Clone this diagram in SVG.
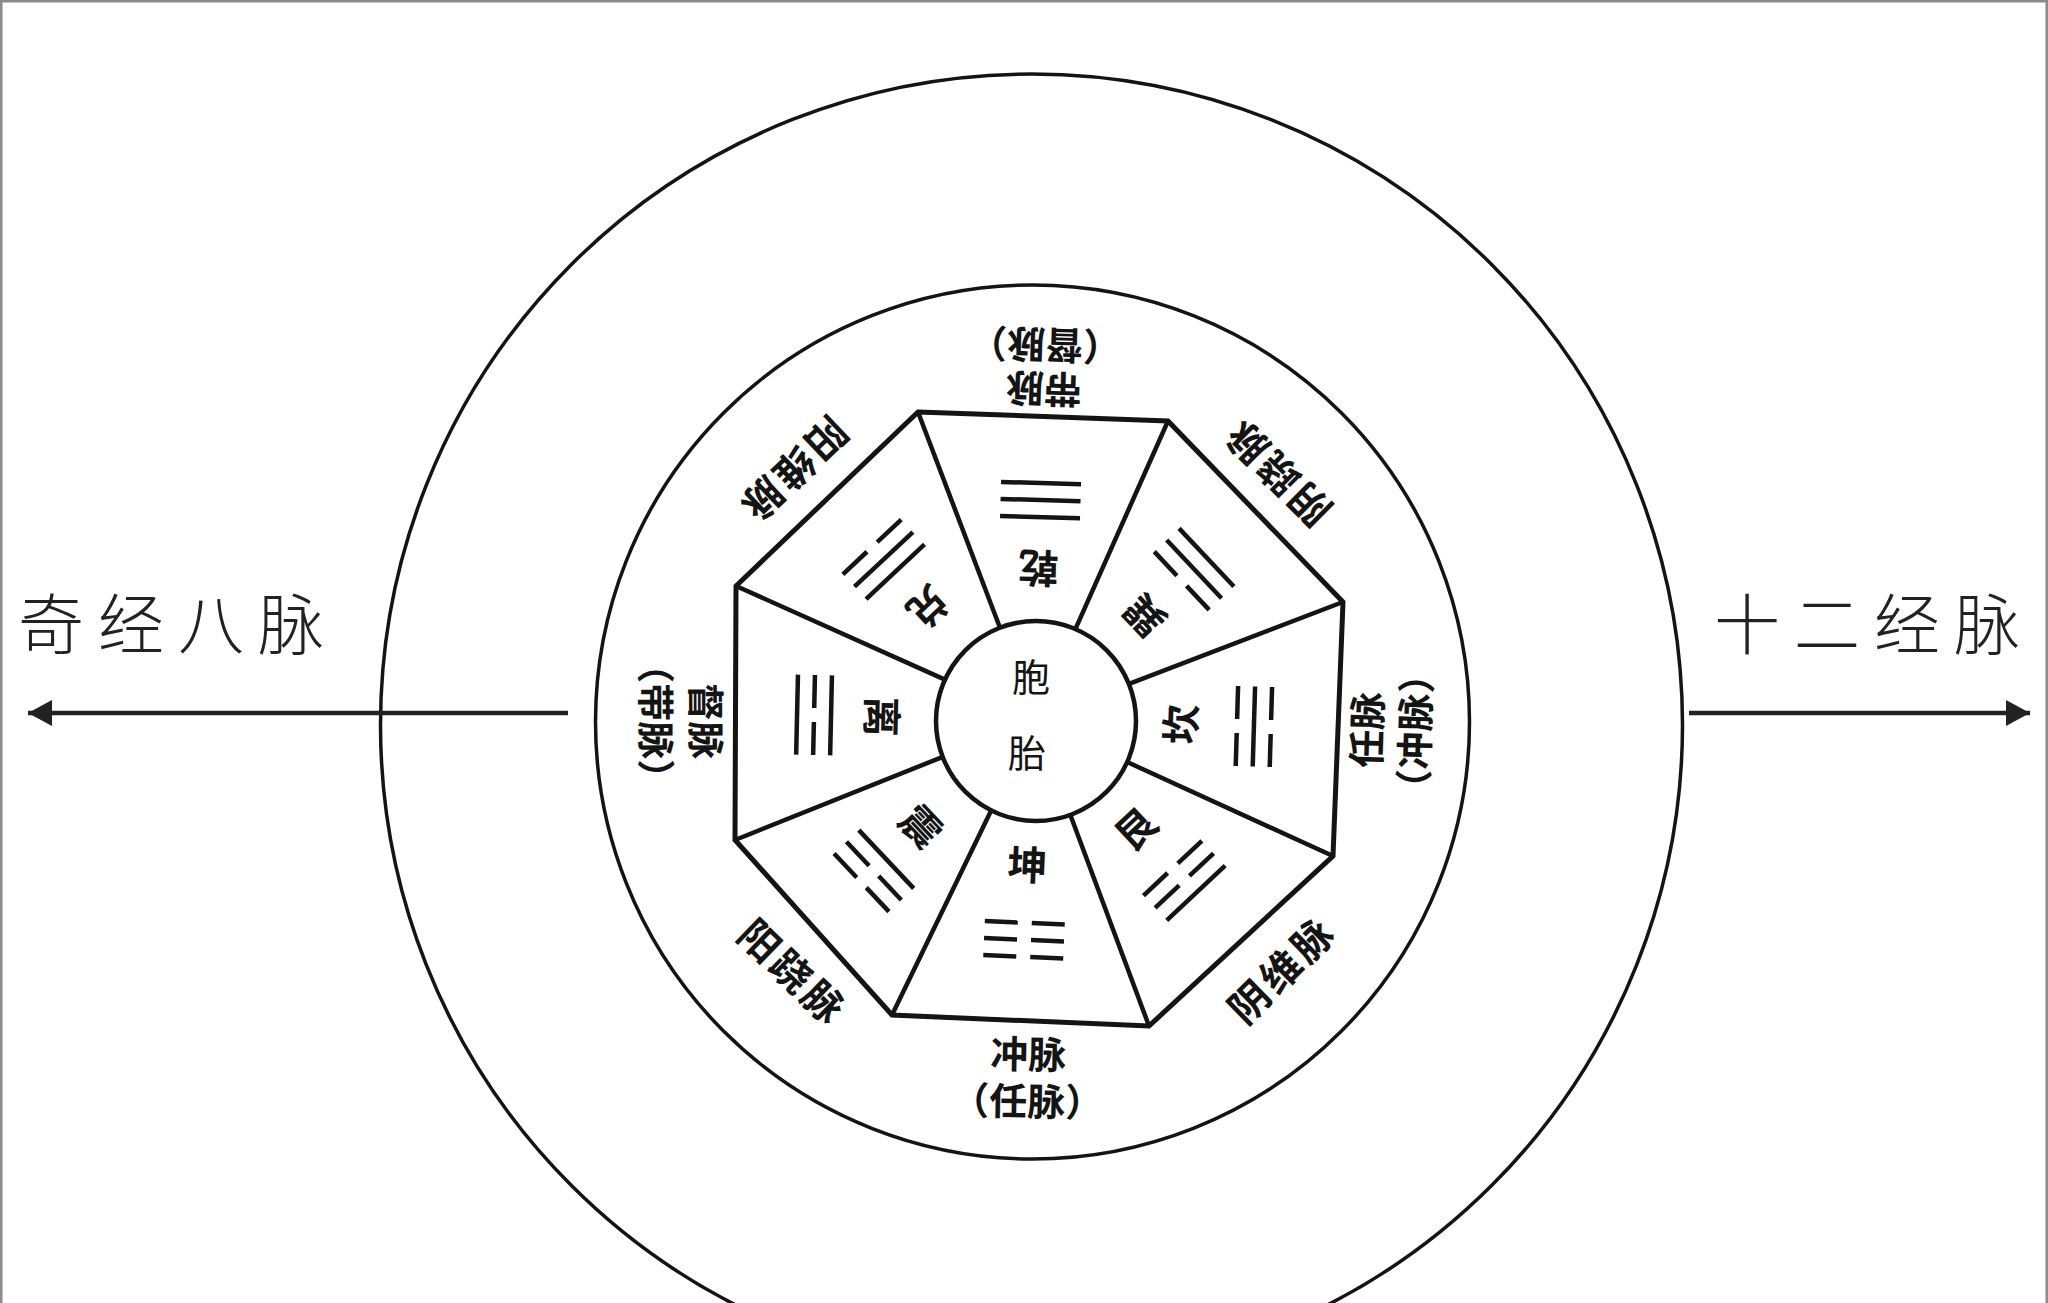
<svg xmlns="http://www.w3.org/2000/svg" width="2048" height="1303" viewBox="0 0 2048 1303">
<style>
.ring{fill:none;stroke:#141414;stroke-width:3.5}
.oct{fill:none;stroke:#141414;stroke-width:5;stroke-linejoin:miter}
.spoke{stroke:#141414;stroke-width:4.5}
.yao{stroke:#141414;stroke-width:4.5}
.tri{font-family:"Noto Sans CJK SC","Noto Sans CJK TC",sans-serif;font-size:40px;font-weight:700;fill:#141414;text-anchor:middle;dominant-baseline:central}
.mer{font-family:"Noto Sans CJK SC","Noto Sans CJK TC",sans-serif;font-size:38px;font-weight:700;fill:#141414;text-anchor:middle;dominant-baseline:central}
.merd{font-family:"Noto Sans CJK SC","Noto Sans CJK TC",sans-serif;font-size:40px;font-weight:700;letter-spacing:4px;fill:#141414;text-anchor:middle;dominant-baseline:central}
.core{font-family:"Noto Sans CJK SC","Noto Sans CJK TC",sans-serif;font-size:38px;font-weight:400;fill:#141414;text-anchor:middle;dominant-baseline:central}
.big{font-family:"Noto Sans CJK SC","Noto Sans CJK TC",sans-serif;font-size:66px;font-weight:300;letter-spacing:14px;fill:#222;dominant-baseline:central}
.arrow{stroke:#222;stroke-width:4.5;fill:none}
</style>
<defs>
<marker id="ah" markerUnits="userSpaceOnUse" markerWidth="26" markerHeight="28" refX="24" refY="14" orient="auto">
<path d="M0,1 L24,14 L0,27 Z" fill="#222"/>
</marker>
</defs>
<rect x="0" y="0" width="2048" height="1303" fill="#fff"/>
<path d="M1,1303 V1 H2047 V1303" fill="none" stroke="#8a8a8a" stroke-width="3"/>

<g id="outer-circle"><circle class="ring" cx="1031.5" cy="725" r="651"/></g>
<g id="inner-circle"><circle class="ring" cx="1032.5" cy="722" r="437"/></g>

<g id="octagon">
<polygon class="oct" points="918,412 1168,421 1343,602 1333,856 1149,1026 892,1015 735,840 736,586"/>
<line class="spoke" x1="918" y1="412" x2="999.5" y2="626.5"/>
<line class="spoke" x1="1168" y1="421" x2="1075.6" y2="628.6"/>
<line class="spoke" x1="1343" y1="602" x2="1128.4" y2="684.2"/>
<line class="spoke" x1="1333" y1="856" x2="1126" y2="761.5"/>
<line class="spoke" x1="1149" y1="1026" x2="1069.9" y2="813.7"/>
<line class="spoke" x1="892" y1="1015" x2="991.4" y2="810"/>
<line class="spoke" x1="735" y1="840" x2="942.2" y2="757.1"/>
<line class="spoke" x1="736" y1="586" x2="943.8" y2="679.1"/>
</g>

<g id="core">
<circle cx="1036" cy="721" r="100" fill="#fff" stroke="#141414" stroke-width="4.5"/>
<text class="core" x="1031" y="674">胞</text>
<text class="core" x="1027" y="750">胎</text>
</g>

<g id="seg-qian" transform="translate(1034,720) rotate(-178.3)">
<text class="tri" x="0" y="150">乾</text>
<line class="yao" x1="-40" y1="203" x2="40" y2="203"/>
<line class="yao" x1="-40" y1="220" x2="40" y2="220"/>
<line class="yao" x1="-40" y1="237" x2="40" y2="237"/>
</g>
<g id="seg-xun" transform="translate(1034,720) rotate(-133.3)">
<text class="tri" x="0" y="150">巽</text>
<line class="yao" x1="-40" y1="203" x2="-7" y2="203"/><line class="yao" x1="7" y1="203" x2="40" y2="203"/>
<line class="yao" x1="-40" y1="220" x2="40" y2="220"/>
<line class="yao" x1="-40" y1="237" x2="40" y2="237"/>
</g>
<g id="seg-kan" transform="translate(1034,720) rotate(-88.3)">
<text class="tri" x="0" y="145">坎</text>
<line class="yao" x1="-40" y1="203" x2="-7" y2="203"/><line class="yao" x1="7" y1="203" x2="40" y2="203"/>
<line class="yao" x1="-40" y1="220" x2="40" y2="220"/>
<line class="yao" x1="-40" y1="237" x2="-7" y2="237"/><line class="yao" x1="7" y1="237" x2="40" y2="237"/>
</g>
<g id="seg-gen" transform="translate(1034,720) rotate(-43.1)">
<text class="tri" x="0" y="147">艮</text>
<line class="yao" x1="-40" y1="203" x2="-7" y2="203"/><line class="yao" x1="7" y1="203" x2="40" y2="203"/>
<line class="yao" x1="-40" y1="220" x2="-7" y2="220"/><line class="yao" x1="7" y1="220" x2="40" y2="220"/>
<line class="yao" x1="-40" y1="237" x2="40" y2="237"/>
</g>
<g id="seg-kun" transform="translate(1034,720) rotate(2.6)">
<text class="tri" x="0" y="143">坤</text>
<line class="yao" x1="-40" y1="203" x2="-7" y2="203"/><line class="yao" x1="7" y1="203" x2="40" y2="203"/>
<line class="yao" x1="-40" y1="220" x2="-7" y2="220"/><line class="yao" x1="7" y1="220" x2="40" y2="220"/>
<line class="yao" x1="-40" y1="237" x2="-7" y2="237"/><line class="yao" x1="7" y1="237" x2="40" y2="237"/>
</g>
<g id="seg-zhen" transform="translate(1034,720) rotate(46.7)">
<text class="tri" x="0" y="153">震</text>
<line class="yao" x1="-40" y1="203" x2="40" y2="203"/>
<line class="yao" x1="-40" y1="220" x2="-7" y2="220"/><line class="yao" x1="7" y1="220" x2="40" y2="220"/>
<line class="yao" x1="-40" y1="237" x2="-7" y2="237"/><line class="yao" x1="7" y1="237" x2="40" y2="237"/>
</g>
<g id="seg-li" transform="translate(1034,720) rotate(91.3)">
<text class="tri" x="0" y="150">离</text>
<line class="yao" x1="-40" y1="203" x2="40" y2="203"/>
<line class="yao" x1="-40" y1="220" x2="-7" y2="220"/><line class="yao" x1="7" y1="220" x2="40" y2="220"/>
<line class="yao" x1="-40" y1="237" x2="40" y2="237"/>
</g>
<g id="seg-dui" transform="translate(1034,720) rotate(136.9)">
<text class="tri" x="0" y="153">兑</text>
<line class="yao" x1="-40" y1="203" x2="40" y2="203"/>
<line class="yao" x1="-40" y1="220" x2="40" y2="220"/>
<line class="yao" x1="-40" y1="237" x2="-7" y2="237"/><line class="yao" x1="7" y1="237" x2="40" y2="237"/>
</g>

<g id="label-top" transform="translate(1034,720) rotate(-178.3)">
<text class="mer" x="0" y="329">带脉</text>
<text class="mer" x="0" y="373">（督脉）</text>
</g>
<g id="label-right" transform="translate(1034,720) rotate(-88.3)">
<text class="mer" x="0" y="331">任脉</text>
<text class="mer" x="0" y="379">（冲脉）</text>
</g>
<g id="label-bottom" transform="translate(1034,720) rotate(1)">
<text class="mer" x="0" y="332">冲脉</text>
<text class="mer" x="0" y="379">（任脉）</text>
</g>
<g id="label-left" transform="translate(1034,720) rotate(89.8)">
<text class="mer" x="0" y="326">督脉</text>
<text class="mer" x="0" y="376">（带脉）</text>
</g>
<g id="label-ur" transform="translate(1034,720) rotate(-135.2)">
<text class="merd" x="2" y="345">阴跷脉</text>
</g>
<g id="label-lr" transform="translate(1034,720) rotate(-44.5)">
<text class="merd" x="2" y="350">阴维脉</text>
</g>
<g id="label-ll" transform="translate(1034,720) rotate(44)">
<text class="merd" x="2" y="347">阳跷脉</text>
</g>
<g id="label-ul" transform="translate(1034,720) rotate(136.4)">
<text class="merd" x="2" y="345">阳维脉</text>
</g>

<g id="label-qijing"><text class="big" x="18" y="620">奇经八脉</text></g>
<g id="label-shier"><text class="big" x="1714" y="620">十二经脉</text></g>

<g id="connectors">
<line class="arrow" x1="568" y1="713" x2="28" y2="713" marker-end="url(#ah)"/>
<line class="arrow" x1="1689" y1="713" x2="2030" y2="713" marker-end="url(#ah)"/>
</g>
</svg>
